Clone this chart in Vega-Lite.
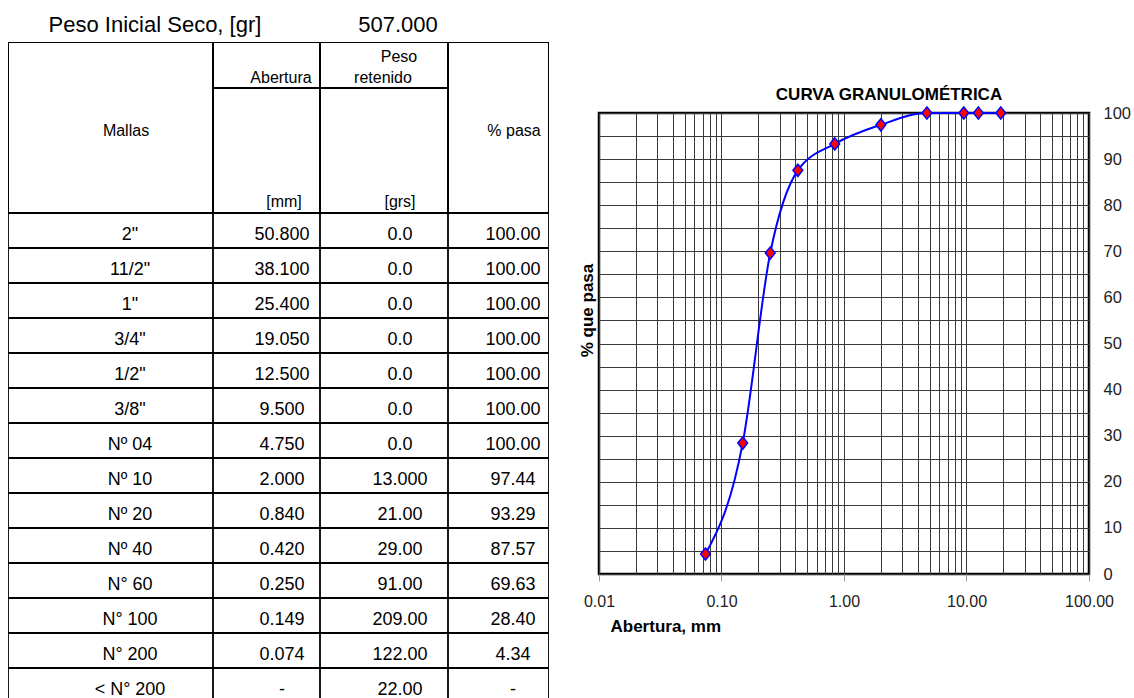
{
  "$schema": "https://vega.github.io/schema/vega-lite/v6.json",
  "padding": {"left": 8, "top": 0, "right": 0, "bottom": 0},
  "background": "white",
  "datasets": {
    "granulometria": [
      {"malla": "2\"", "abertura_txt": "50.800", "abertura": 50.8, "peso_txt": "0.0", "pasa_txt": "100.00", "pasa": 100},
      {"malla": "11/2\"", "abertura_txt": "38.100", "abertura": 38.1, "peso_txt": "0.0", "pasa_txt": "100.00", "pasa": 100},
      {"malla": "1\"", "abertura_txt": "25.400", "abertura": 25.4, "peso_txt": "0.0", "pasa_txt": "100.00", "pasa": 100},
      {"malla": "3/4\"", "abertura_txt": "19.050", "abertura": 19.05, "peso_txt": "0.0", "pasa_txt": "100.00", "pasa": 100},
      {"malla": "1/2\"", "abertura_txt": "12.500", "abertura": 12.5, "peso_txt": "0.0", "pasa_txt": "100.00", "pasa": 100},
      {"malla": "3/8\"", "abertura_txt": "9.500", "abertura": 9.5, "peso_txt": "0.0", "pasa_txt": "100.00", "pasa": 100},
      {"malla": "Nº 04", "abertura_txt": "4.750", "abertura": 4.75, "peso_txt": "0.0", "pasa_txt": "100.00", "pasa": 100},
      {"malla": "Nº 10", "abertura_txt": "2.000", "abertura": 2.0, "peso_txt": "13.000", "pasa_txt": "97.44", "pasa": 97.44},
      {"malla": "Nº 20", "abertura_txt": "0.840", "abertura": 0.84, "peso_txt": "21.00", "pasa_txt": "93.29", "pasa": 93.29},
      {"malla": "Nº 40", "abertura_txt": "0.420", "abertura": 0.42, "peso_txt": "29.00", "pasa_txt": "87.57", "pasa": 87.57},
      {"malla": "N° 60", "abertura_txt": "0.250", "abertura": 0.25, "peso_txt": "91.00", "pasa_txt": "69.63", "pasa": 69.63},
      {"malla": "N° 100", "abertura_txt": "0.149", "abertura": 0.149, "peso_txt": "209.00", "pasa_txt": "28.40", "pasa": 28.4},
      {"malla": "N° 200", "abertura_txt": "0.074", "abertura": 0.074, "peso_txt": "122.00", "pasa_txt": "4.34", "pasa": 4.34},
      {"malla": "< N° 200", "abertura_txt": "-", "abertura": null, "peso_txt": "22.00", "pasa_txt": "-", "pasa": null}
    ]
  },
  "spacing": 27,
  "hconcat": [
    {
      "vconcat": [
        {
          "hconcat": [
            {"width": 312, "height": 42, "data": {"values": [{"etiqueta": "Peso Inicial Seco, [gr]"}]},
             "mark": {"type": "text", "fontSize": 22, "font": "Liberation Sans", "color": "black", "dx": -9, "dy": 4},
             "encoding": {"text": {"field": "etiqueta"}}},
            {"width": 128, "height": 42, "data": {"values": [{"valor": "507.000"}]},
             "mark": {"type": "text", "fontSize": 22, "font": "Liberation Sans", "color": "black", "dx": 14, "dy": 4},
             "encoding": {"text": {"field": "valor"}}}
          ],
          "spacing": 0, "bounds": "flush"
        },
        {
          "hconcat": [
            {"width": 205, "height": 171, "data": {"values": [{"t": "Mallas"}]},
             "layer": [
               {"mark": {"type": "rect", "fill": "white", "stroke": "black", "strokeWidth": 2, "clip": true},
                "encoding": {"x": {"value": 0}, "x2": {"value": "width"}, "y": {"value": 0}, "y2": {"value": "height"}}},
               {"mark": {"type": "text", "fontSize": 16, "font": "Liberation Sans", "color": "black", "dx": 15.5, "dy": 3},
                "encoding": {"text": {"field": "t"}}}
             ]},
            {"vconcat": [
              {"width": 107, "height": 46, "data": {"values": [{"t": "Abertura"}]},
               "layer": [
                 {"mark": {"type": "rect", "fill": "white", "stroke": "black", "strokeWidth": 2, "clip": true},
                  "encoding": {"x": {"value": 0}, "x2": {"value": "width"}, "y": {"value": 0}, "y2": {"value": "height"}}},
                 {"mark": {"type": "text", "fontSize": 16, "font": "Liberation Sans", "color": "black", "dx": 14.5, "dy": 13},
                  "encoding": {"text": {"field": "t"}}}
               ]},
              {"width": 107, "height": 125, "data": {"values": [{"t": "[mm]"}]},
               "layer": [
                 {"mark": {"type": "rect", "fill": "white", "stroke": "black", "strokeWidth": 2, "clip": true},
                  "encoding": {"x": {"value": 0}, "x2": {"value": "width"}, "y": {"value": 0}, "y2": {"value": "height"}}},
                 {"mark": {"type": "text", "fontSize": 16, "font": "Liberation Sans", "color": "black", "dx": 17.5, "dy": 51},
                  "encoding": {"text": {"field": "t"}}}
               ]}
            ], "spacing": 0, "bounds": "flush"},
            {"vconcat": [
              {"width": 128, "height": 46, "data": {"values": [{"t1": "Peso", "t2": "retenido"}]},
               "layer": [
                 {"mark": {"type": "rect", "fill": "white", "stroke": "black", "strokeWidth": 2, "clip": true},
                  "encoding": {"x": {"value": 0}, "x2": {"value": "width"}, "y": {"value": 0}, "y2": {"value": "height"}}},
                 {"mark": {"type": "text", "fontSize": 16, "font": "Liberation Sans", "color": "black", "dx": 15, "dy": -8},
                  "encoding": {"text": {"field": "t1"}}},
                 {"mark": {"type": "text", "fontSize": 16, "font": "Liberation Sans", "color": "black", "dx": -1, "dy": 13},
                  "encoding": {"text": {"field": "t2"}}}
               ]},
              {"width": 128, "height": 125, "data": {"values": [{"t": "[grs]"}]},
               "layer": [
                 {"mark": {"type": "rect", "fill": "white", "stroke": "black", "strokeWidth": 2, "clip": true},
                  "encoding": {"x": {"value": 0}, "x2": {"value": "width"}, "y": {"value": 0}, "y2": {"value": "height"}}},
                 {"mark": {"type": "text", "fontSize": 16, "font": "Liberation Sans", "color": "black", "dx": 16, "dy": 51},
                  "encoding": {"text": {"field": "t"}}}
               ]}
            ], "spacing": 0, "bounds": "flush"},
            {"width": 101, "height": 171, "data": {"values": [{"t": "% pasa"}]},
             "layer": [
               {"mark": {"type": "rect", "fill": "white", "stroke": "black", "strokeWidth": 2, "clip": true},
                "encoding": {"x": {"value": 0}, "x2": {"value": "width"}, "y": {"value": 0}, "y2": {"value": "height"}}},
               {"mark": {"type": "text", "fontSize": 16, "font": "Liberation Sans", "color": "black", "dx": 15.5, "dy": 3},
                "encoding": {"text": {"field": "t"}}}
             ]}
          ],
          "spacing": 0
        },
        {
          "hconcat": [
            {"width": 205, "height": 490, "data": {"name": "granulometria"},
             "encoding": {"y": {"field": "malla", "type": "nominal", "sort": null, "axis": null, "scale": {"paddingInner": 0, "paddingOuter": 0}}},
             "layer": [
               {"mark": {"type": "rect", "fill": "white", "stroke": "black", "strokeWidth": 1.8, "clip": true}},
               {"mark": {"type": "text", "fontSize": 18, "font": "Liberation Sans", "color": "black", "dx": 19.5, "dy": 4},
                "encoding": {"text": {"field": "malla"}}}
             ]},
            {"width": 107, "height": 490, "data": {"name": "granulometria"},
             "encoding": {"y": {"field": "malla", "type": "nominal", "sort": null, "axis": null, "scale": {"paddingInner": 0, "paddingOuter": 0}}},
             "layer": [
               {"mark": {"type": "rect", "fill": "white", "stroke": "black", "strokeWidth": 1.8, "clip": true}},
               {"mark": {"type": "text", "fontSize": 18, "font": "Liberation Sans", "color": "black", "dx": 15.5, "dy": 4},
                "encoding": {"text": {"field": "abertura_txt"}}}
             ]},
            {"width": 128, "height": 490, "data": {"name": "granulometria"},
             "encoding": {"y": {"field": "malla", "type": "nominal", "sort": null, "axis": null, "scale": {"paddingInner": 0, "paddingOuter": 0}}},
             "layer": [
               {"mark": {"type": "rect", "fill": "white", "stroke": "black", "strokeWidth": 1.8, "clip": true}},
               {"mark": {"type": "text", "fontSize": 18, "font": "Liberation Sans", "color": "black", "dx": 16, "dy": 4},
                "encoding": {"text": {"field": "peso_txt"}}}
             ]},
            {"width": 101, "height": 490, "data": {"name": "granulometria"},
             "encoding": {"y": {"field": "malla", "type": "nominal", "sort": null, "axis": null, "scale": {"paddingInner": 0, "paddingOuter": 0}}},
             "layer": [
               {"mark": {"type": "rect", "fill": "white", "stroke": "black", "strokeWidth": 1.8, "clip": true}},
               {"mark": {"type": "text", "fontSize": 18, "font": "Liberation Sans", "color": "black", "dx": 14.5, "dy": 4},
                "encoding": {"text": {"field": "pasa_txt"}}}
             ]}
          ],
          "spacing": 0, "bounds": "flush"
        }
      ],
      "spacing": 0
    },
    {
      "vconcat": [
        {"width": 10, "height": 84, "data": {"values": [{"t": ""}]},
         "mark": {"type": "text", "opacity": 0}, "encoding": {"text": {"field": "t"}}},
        {
          "width": 490, "height": 461,
          "view": {"stroke": "black", "strokeWidth": 2.5},
          "title": {"text": "CURVA GRANULOMÉTRICA", "fontSize": 17, "fontWeight": "bold", "font": "Liberation Sans", "color": "black", "anchor": "middle", "dx": 45, "offset": 0},
          "data": {"name": "granulometria"},
          "transform": [{"filter": {"field": "abertura", "range": [0.01, 20]}}],
          "encoding": {
            "x": {"field": "abertura", "type": "quantitative",
                  "scale": {"type": "log", "domain": [0.01, 100], "nice": false},
                  "axis": {
                    "orient": "bottom",
                    "values": [0.01,0.02,0.03,0.04,0.05,0.06,0.07,0.08,0.09,0.1,0.2,0.3,0.4,0.5,0.6,0.7,0.8,0.9,1,2,3,4,5,6,7,8,9,10,20,30,40,50,60,70,80,90,100],
                    "grid": true, "gridColor": "#3a3a3a", "gridWidth": 1, "gridOpacity": 1,
                    "domain": false,
                    "ticks": true, "tickSize": 7, "tickColor": "#999999",
                    "tickOpacity": {"condition": {"test": "indexof([0.01,0.1,1,10,100], datum.value) >= 0", "value": 1}, "value": 0},
                    "labelExpr": "indexof([0.01,0.1,1,10,100], datum.value) >= 0 ? format(datum.value, '.2f') : ''",
                    "labelFontSize": 16, "labelFont": "Liberation Sans", "labelColor": "#222222", "labelPadding": 12,
                    "labelFlush": false, "labelOverlap": false,
                    "title": "Abertura, mm", "titleFontSize": 17, "titleFontWeight": "bold", "titleFont": "Liberation Sans", "titleColor": "black",
                    "titleAnchor": "start", "titleAlign": "left", "titleX": 11, "titlePadding": 9
                  }}
          },
          "layer": [
            {"mark": {"type": "line", "interpolate": "monotone", "color": "#0000FF", "strokeWidth": 2},
             "encoding": {"y": {"field": "pasa", "type": "quantitative",
               "scale": {"domain": [0, 100], "nice": false, "zero": false},
               "axis": {"orient": "right", "values": [0,5,10,15,20,25,30,35,40,45,50,55,60,65,70,75,80,85,90,95,100],
                        "grid": true, "gridColor": "#3a3a3a", "gridWidth": 1, "gridOpacity": 1,
                        "domain": false, "ticks": false,
                        "labelExpr": "datum.value % 10 == 0 ? datum.label : ''",
                        "labelFontSize": 16.5, "labelFont": "Liberation Sans", "labelColor": "#222222", "labelPadding": 14,
                        "labelFlush": false, "labelOverlap": false, "title": null}}}},
            {"mark": {"type": "point", "shape": "M-0.8,0L0,-1L0.8,0L0,1Z", "filled": true, "fill": "#FF0000", "stroke": "#0000FF", "strokeWidth": 1.5, "size": 150, "opacity": 1},
             "encoding": {"y": {"field": "pasa", "type": "quantitative",
               "scale": {"domain": [0, 100], "nice": false, "zero": false},
               "axis": {"orient": "left", "grid": false, "domain": false, "ticks": false, "labels": false,
                        "title": "% que pasa", "titleFontSize": 17, "titleFontWeight": "bold", "titleFont": "Liberation Sans", "titleColor": "black",
                        "titlePadding": 3, "titleY": 197}}}}
          ],
          "resolve": {"axis": {"y": "independent"}}
        }
      ],
      "spacing": 0
    }
  ],
  "config": {
    "view": {"stroke": null},
    "font": "Liberation Sans"
  }
}
